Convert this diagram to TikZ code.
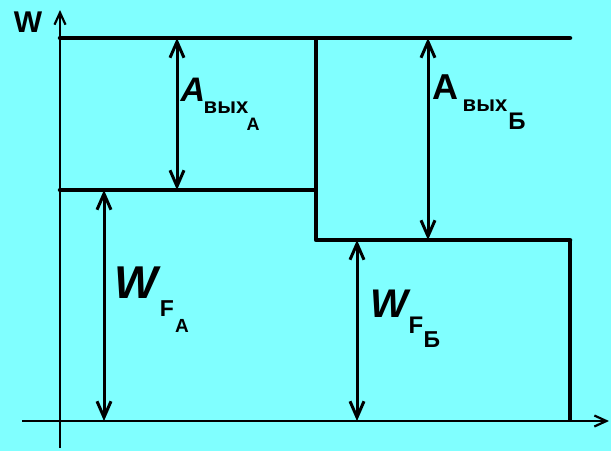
\documentclass[tikz,border=0pt]{standalone}
\usepackage{fontspec}
\setmainfont{Liberation Sans}
\usetikzlibrary{arrows.meta}
\definecolor{bgcyan}{RGB}{128,255,255}
\tikzset{
  thickline/.style={line width=4.5pt, line cap=round},
  axisline/.style={line width=2.2pt},
  barb/.tip={Straight Barb[length=16pt,width=14pt,line width=3pt]},
  dimarrow/.style={line width=3pt, barb-barb},
  axisarrow/.style={line width=2.2pt, -{Straight Barb[length=12pt,width=11pt,line width=2.2pt]}},
  lbl/.style={inner sep=0pt, text=black},
}
\newcommand{\fsz}[1]{\fontsize{#1}{#1}\selectfont\bfseries}
\begin{document}
\begin{tikzpicture}[x=1pt,y=-1pt]
\fill[bgcyan] (0,0) rectangle (611,451);
\useasboundingbox (0,0) rectangle (611,451);
% coordinates
\coordinate (yb) at (60,448);
\coordinate (yt) at (60,10);
\coordinate (xl) at (22,421);
\coordinate (xr) at (609,421);
\coordinate (vacL) at (60,38);
\coordinate (vacR) at (570,38);
\coordinate (vacM) at (316,38);
\coordinate (fA0) at (60,190);
\coordinate (fA1) at (316,190);
\coordinate (fB0) at (316,240);
\coordinate (fB1) at (570,240);
\coordinate (rb) at (570,421);
\coordinate (aAt) at (177,38);
\coordinate (aAb) at (177,190);
\coordinate (aBt) at (428,38);
\coordinate (aBb) at (428,240);
\coordinate (wAt) at (104,190);
\coordinate (wAb) at (104,421);
\coordinate (wBt) at (357,240);
\coordinate (wBb) at (357,421);
% axes
\draw[axisarrow] (yb) -- (yt);
\draw[axisarrow] (xl) -- (xr);
% levels
\draw[thickline] (vacL) -- (vacR);
\draw[line width=3.5pt] (vacM) -- (fA1);
\draw[thickline, line join=round] (fA0) -- (fA1) -- (fB0) -- (fB1);
\draw[line width=3.5pt] (fB1) -- (rb);
% dimension arrows
\draw[dimarrow] (aAt) -- (aAb);
\draw[dimarrow] (aBt) -- (aBb);
\draw[dimarrow] (wAt) -- (wAb);
\draw[dimarrow] (wBt) -- (wBb);
% labels
\node[lbl, font=\fsz{30}] (W) at (28,22) {W};
\node[lbl, font=\fsz{34}\itshape] (AA) at (193,90) {A};
\node[lbl, font=\fsz{22}] (AAs) at (226,108) {вых};
\node[lbl, font=\fsz{18}] (AAss) at (253,124) {A};
\node[lbl, font=\fsz{36}] (AB) at (445,87) {A};
\node[lbl, font=\fsz{22}] (ABs) at (485,106) {вых};
\node[lbl, font=\fsz{24}] (ABss) at (517,121) {Б};
\node[lbl, font=\fsz{46}\itshape] (WA) at (136,283) {W};
\node[lbl, font=\fsz{23}] (WAs) at (167,309) {F};
\node[lbl, font=\fsz{19}] (WAss) at (182,326) {A};
\node[lbl, font=\fsz{40}\itshape] (WB) at (389,304) {W};
\node[lbl, font=\fsz{24}] (WBs) at (416,325) {F};
\node[lbl, font=\fsz{23}] (WBss) at (432,340) {Б};
\end{tikzpicture}
\end{document}
